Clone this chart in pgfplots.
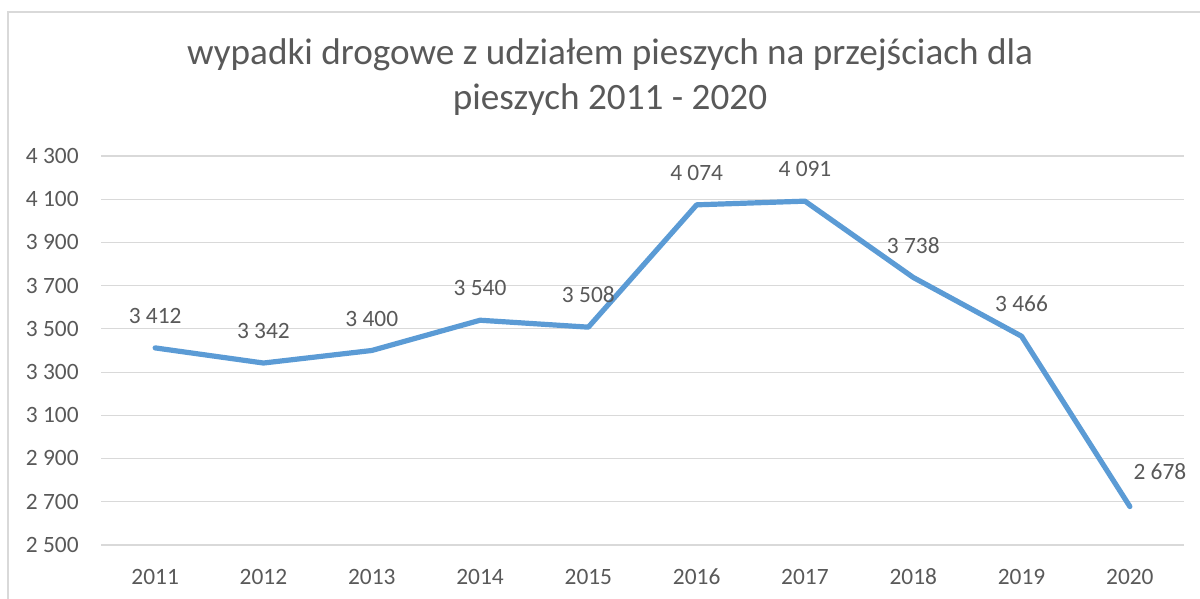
\documentclass[border=0pt]{standalone}
\usepackage{fontspec}
\setmainfont{Carlito}
\usepackage{pgfplots}
\pgfplotsset{compat=1.18}
\definecolor{txtc}{HTML}{595959}
\definecolor{gridc}{HTML}{D9D9D9}
\definecolor{linec}{HTML}{5B9BD5}
\begin{document}
\begin{tikzpicture}
\useasboundingbox (0,0) rectangle (600pt,299.5pt);
\draw[gridc, line width=0.6pt] (4pt,0) -- (4pt,293.5pt) -- (600pt,293.5pt);
\node[anchor=base, text=txtc, font=\fontsize{18.6}{22}\selectfont, inner sep=0] at (305pt,267pt) {wypadki drogowe z udziałem pieszych na przejściach dla};
\node[anchor=base, text=txtc, font=\fontsize{18.6}{22}\selectfont, inner sep=0] at (305pt,244.5pt) {pieszych 2011 - 2020};
\begin{axis}[
  at={(50.5pt,27pt)}, anchor=south west,
  scale only axis, width=541.5pt, height=194.5pt,
  xmin=-0.5, xmax=9.5, ymin=2500, ymax=4300,
  axis line style={draw=none},
  major tick length=0pt,
  ytick={2500,2700,...,4300},
  xtick={0,...,9},
  xticklabels={2011,2012,2013,2014,2015,2016,2017,2018,2019,2020},
  xmajorgrids=false,
  ymajorgrids=true,
  major grid style={draw=gridc, line width=0.6pt},
  /pgf/number format/.cd, 1000 sep={~}, assume math mode=true,
  /pgfplots/.cd,
  x tick label style={anchor=base, inner sep=0pt, yshift=-19.75pt, text=txtc, font=\fontsize{11.7}{14}\selectfont},
  y tick label style={anchor=base east, inner sep=0pt, xshift=-11pt, yshift=-3.7pt, text=txtc, font=\fontsize{11.7}{14}\selectfont},
  clip=false,
]
\addplot[linec, line width=2.6pt, line join=round, line cap=round] coordinates {
(0,3412) (1,3342) (2,3400) (3,3540) (4,3508) (5,4074) (6,4091) (7,3738) (8,3466) (9,2678)};
\addplot[draw=none, nodes near coords, nodes near coords style={anchor=base, inner sep=0pt, yshift=12.2pt, text=txtc, font=\fontsize{11.7}{14}\selectfont}] coordinates {
(0,3412) (1,3342) (2,3400) (3,3540) (4,3508) (5,4074) (6,4091) (7,3738) (8,3466)};
\addplot[draw=none, nodes near coords, nodes near coords style={anchor=base, inner sep=0pt, xshift=15pt, yshift=13.5pt, text=txtc, font=\fontsize{11.7}{14}\selectfont}] coordinates {
(9,2678)};
\end{axis}
\end{tikzpicture}
\end{document}
